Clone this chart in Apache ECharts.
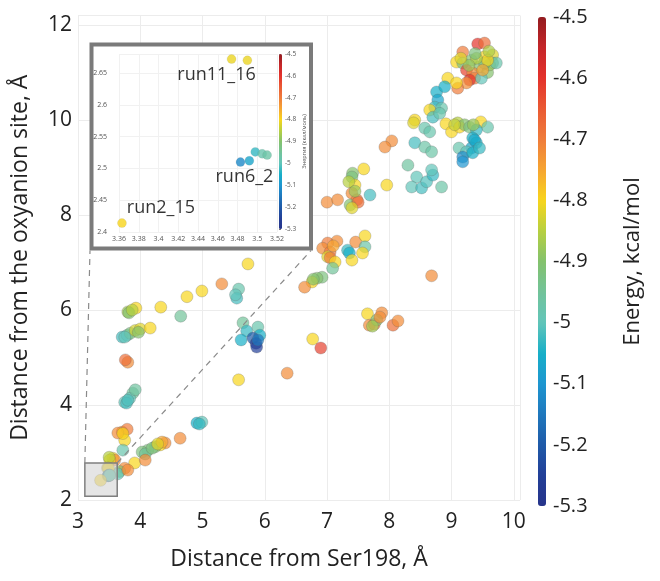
<!DOCTYPE html>
<html><head><meta charset="utf-8">
<script src="https://cdn.jsdelivr.net/npm/echarts@6/dist/echarts.min.js"></script>
<style>html,body{margin:0;padding:0;background:#fff}#c{width:660px;height:581px}</style>
</head><body><div id="c"></div>
<script>
// ---- data: [distance from Ser198, distance from oxyanion site, energy] ----
const topCluster = [[9.42,11.60,-4.60],[9.53,11.62,-4.68],[9.18,11.43,-4.70],[9.08,11.22,-4.80],[9.18,11.20,-4.92],[9.32,11.26,-4.90],[9.53,11.33,-4.80],[9.66,11.37,-4.82],[9.66,11.20,-4.92],[9.45,11.12,-4.90],[9.24,11.05,-4.62],[9.34,10.99,-4.72],[9.37,10.88,-4.70],[9.58,11.00,-4.90],[9.48,10.88,-5.00],[9.29,10.84,-4.60],[9.61,11.16,-4.88],[9.24,10.78,-4.72],[9.10,10.67,-4.70],[8.94,10.88,-4.80],[9.08,10.78,-4.80],[9.72,11.20,-4.98],[9.53,11.20,-4.92],[9.58,11.26,-4.80],[9.40,11.30,-4.85],[9.28,11.15,-4.88],[9.15,11.30,-4.82],[9.50,11.05,-4.75],[9.38,11.40,-4.92],[9.60,11.45,-4.86]];
const tealChain = [[8.76,10.59,-5.05],[8.89,10.70,-5.05],[8.78,10.42,-5.07],[8.73,10.27,-5.02],[8.84,10.25,-4.98],[8.65,10.21,-4.80],[8.70,10.06,-5.02],[8.81,10.14,-4.98]];
const midCluster = [[8.41,10.00,-4.80],[8.39,9.94,-4.82],[8.57,9.83,-4.98],[8.65,9.75,-4.98],[8.41,9.52,-5.02],[8.57,9.43,-4.97],[8.68,9.33,-4.97],[8.30,9.05,-4.96],[8.44,8.80,-5.00],[8.36,8.59,-5.00],[8.52,8.57,-5.02],[8.60,8.70,-5.01],[8.70,8.84,-5.03],[8.68,8.95,-5.00],[8.84,8.59,-4.97]];
const rightCluster = [[8.91,9.92,-4.80],[9.00,9.75,-4.80],[9.10,9.94,-4.85],[9.13,9.85,-4.80],[9.21,9.90,-4.90],[9.29,9.85,-4.92],[9.47,9.96,-4.80],[9.58,9.85,-4.98],[9.40,9.79,-5.03],[9.34,9.62,-5.05],[9.40,9.52,-5.05],[9.32,9.41,-5.07],[9.37,9.58,-5.06],[9.12,9.41,-4.98],[9.24,9.33,-5.00],[9.18,9.22,-5.12],[9.18,9.12,-5.10],[9.34,9.31,-5.05],[9.45,9.41,-5.03],[9.35,9.90,-4.88],[9.05,9.90,-4.84]];
const column74 = [[8.04,9.56,-4.72],[7.93,9.43,-4.72],[7.59,8.97,-4.80],[7.41,8.88,-4.90],[7.40,8.80,-4.92],[7.45,8.63,-4.80],[7.40,8.46,-4.72],[7.48,8.32,-4.70],[7.37,8.21,-4.90],[7.50,8.27,-4.68],[7.40,8.15,-4.82],[7.35,8.70,-4.85],[7.45,8.50,-4.88],[7.00,8.27,-4.72],[7.17,8.32,-4.72],[7.69,8.42,-5.02],[7.96,8.63,-4.80]];
const cluster72 = [[7.16,7.45,-4.72],[7.01,7.41,-4.70],[6.93,7.30,-4.72],[7.05,7.22,-4.70],[7.01,7.12,-4.82],[7.05,7.10,-4.70],[7.13,7.01,-4.80],[7.09,6.88,-4.95],[7.33,7.26,-5.03],[7.36,7.20,-5.05],[7.46,7.43,-4.72],[7.61,7.56,-4.80],[7.61,7.33,-4.97],[7.57,7.20,-4.80],[7.40,7.05,-4.80],[7.10,7.35,-4.75],[6.92,6.69,-4.92],[6.84,6.67,-4.90],[6.76,6.59,-4.80],[6.64,6.48,-4.72],[6.78,6.65,-4.90],[8.68,6.72,-4.72]];
const cluster58 = [[7.65,5.92,-4.80],[7.88,5.94,-4.72],[7.68,5.68,-4.72],[7.76,5.70,-4.70],[7.80,5.79,-4.90],[7.73,5.66,-4.87],[7.85,5.85,-4.72],[8.06,5.68,-4.68],[8.14,5.77,-4.72],[6.77,5.39,-4.80],[6.90,5.20,-4.62]];
const row6 = [[5.73,6.97,-4.80],[5.31,6.55,-4.72],[4.99,6.40,-4.80],[4.75,6.28,-4.80],[4.33,6.06,-4.80],[4.65,5.87,-4.95],[5.58,6.44,-4.98],[5.55,6.25,-5.02],[5.53,6.32,-5.00],[3.93,6.04,-4.80],[3.80,5.96,-4.87],[3.82,5.94,-4.90],[3.87,6.00,-4.85]];
const row55 = [[3.71,5.43,-5.02],[3.79,5.47,-5.00],[3.84,5.51,-4.92],[3.92,5.57,-4.83],[4.00,5.60,-4.82],[3.97,5.53,-4.90],[4.16,5.62,-4.80],[3.75,5.43,-5.00],[3.80,4.90,-4.72],[3.76,4.95,-4.68],[3.75,4.06,-5.00],[3.88,4.25,-4.95],[3.83,4.14,-5.00],[3.78,4.04,-5.02],[3.92,4.32,-4.96],[3.80,4.10,-5.01]];
const blueCluster = [[5.65,5.73,-4.95],[5.71,5.56,-5.03],[5.62,5.37,-5.05],[5.89,5.64,-4.98],[5.92,5.47,-5.05],[5.81,5.41,-5.20],[5.86,5.30,-5.25],[5.87,5.22,-5.25],[5.89,5.37,-5.15],[5.58,4.53,-4.80],[6.36,4.67,-4.72]];
const lowCluster = [[4.91,3.62,-5.05],[4.99,3.64,-5.00],[4.95,3.60,-5.03],[3.71,3.43,-4.72],[3.79,3.49,-4.70],[3.75,3.26,-4.80],[3.64,3.41,-4.72],[3.72,3.40,-4.80],[4.64,3.30,-4.72],[4.40,3.20,-4.72],[4.32,3.16,-4.80],[4.24,3.12,-4.90],[4.12,3.05,-4.92],[4.03,3.01,-4.92],[4.08,2.97,-4.95],[4.19,3.09,-4.92],[3.91,2.78,-4.80],[4.08,2.84,-4.72],[3.72,3.05,-4.98],[4.35,3.22,-4.75],[4.28,3.18,-4.82],[3.56,2.88,-4.80],[3.59,2.84,-4.72],[3.51,2.84,-4.80],[3.50,2.90,-4.85],[3.75,2.67,-4.72],[3.67,2.60,-4.90],[3.64,2.55,-5.00],[3.80,2.63,-4.72]];
// zoomed (inset) points
const insetPoints = [[3.474,2.672,-4.81],[3.490,2.670,-4.81],[3.483,2.510,-5.12],[3.492,2.512,-5.07],[3.498,2.526,-5.03],[3.505,2.523,-4.98],[3.510,2.521,-4.97],[3.363,2.414,-4.80]];
const insetNames = [{idx:0,text:'run11_16'},{idx:2,text:'run6_2'},{idx:7,text:'run2_15'}];
const labelOffsets = {0:[-15,16],2:[4,15],7:[39,-15]};
const zoomBox = {x:[3.11,3.63], y:[2.08,2.78]};
const energyRange = [-5.3,-4.5];
const colormap = ['#27348b','#223f98','#1f5aa8','#1f78bd','#1e96d0','#17afc8','#62c5b9','#72c39a','#84c26d','#b7d040','#f8d51c','#f6a532','#ef7c3b','#ea5a34','#e4322b','#c52629','#931b1f'];
const xTitle = 'Distance from Ser198, Å';
const yTitle = 'Distance from the oxyanion site, Å';
const cbTitle = 'Energy, kcal/mol';
const insetCbTitle = 'Энергия (ккал/моль)';

const mainPoints = [].concat(topCluster, tealChain, midCluster, rightCluster, column74, cluster72, cluster58, row6, row55, blueCluster, lowCluster, insetPoints);

const FONT = 'Open Sans';
const TXT = '#222';
const chart = echarts.init(document.getElementById('c'), null, {renderer:'canvas'});
const insetData = insetPoints.map((p,i)=>{
  const nm = insetNames.find(n=>n.idx===i);
  const d = {value:p};
  if (nm) d.label = {show:true, position:'inside', formatter:nm.text, offset:labelOffsets[i], fontSize:18, color:'#000', fontFamily:FONT};
  return d;
});

chart.setOption({
  animation:false,
  backgroundColor:'#fff',
  textStyle:{fontFamily:FONT},
  grid:[
    {left:78, top:15.5, width:442, height:484.5},
    {left:119, top:54, width:158, height:178},
    {left:538, top:17, width:8, height:489},
    {left:279, top:54, width:3, height:175}
  ],
  xAxis:[
    {gridIndex:0, type:'value', min:3, max:10.1, interval:1,
     axisLine:{show:false}, axisTick:{show:false},
     axisLabel:{fontSize:21, color:TXT, margin:12, showMaxLabel:false},
     splitLine:{lineStyle:{color:'#ececec'}},
     name:xTitle, nameLocation:'middle', nameGap:48, nameTextStyle:{fontSize:23, color:TXT}},
    {gridIndex:1, type:'value', min:3.36, max:3.52, interval:0.02, z:3,
     axisLine:{show:false}, axisTick:{show:false},
     axisLabel:{fontSize:7, color:'#555', margin:3},
     splitLine:{lineStyle:{color:'#f1f1f1'}}},
    {gridIndex:2, type:'value', show:false},
    {gridIndex:3, type:'value', show:false}
  ],
  yAxis:[
    {gridIndex:0, type:'value', min:2, max:12.2, interval:2,
     axisLine:{show:false}, axisTick:{show:false},
     axisLabel:{fontSize:21, color:TXT, margin:6, showMaxLabel:false},
     splitLine:{lineStyle:{color:'#ececec'}},
     name:yTitle, nameLocation:'middle', nameGap:46, nameTextStyle:{fontSize:23, color:TXT}},
    {gridIndex:1, type:'value', min:2.4, max:2.68, interval:0.05, z:3,
     axisLine:{show:false}, axisTick:{show:false},
     axisLabel:{fontSize:7, color:'#555', margin:12, showMaxLabel:false},
     splitLine:{lineStyle:{color:'#f1f1f1'}}},
    {gridIndex:2, type:'value', min:energyRange[0], max:energyRange[1], interval:0.1, position:'right',
     axisLine:{show:false}, axisTick:{show:false}, splitLine:{show:false},
     axisLabel:{fontSize:20, color:TXT, margin:7},
     name:cbTitle, nameLocation:'middle', nameGap:76, nameRotate:90, nameTextStyle:{fontSize:22, color:TXT}},
    {gridIndex:3, type:'value', min:energyRange[0], max:energyRange[1], interval:0.1, position:'right', z:3,
     axisLine:{show:false}, axisTick:{show:true, length:2, inside:false, lineStyle:{color:'#777'}}, splitLine:{show:false},
     axisLabel:{fontSize:6.5, color:'#555', margin:3},
     name:insetCbTitle, nameLocation:'middle', nameGap:19, nameRotate:90, nameTextStyle:{fontSize:5.5, color:'#555'}}
  ],
  visualMap:[
    {type:'continuous', seriesIndex:0, dimension:2, min:energyRange[0], max:energyRange[1],
     left:538, top:17, itemWidth:8, itemHeight:489, calculable:false, text:null, padding:0, hoverLink:false,
     inRange:{color:colormap}},
    {type:'continuous', seriesIndex:1, dimension:2, min:energyRange[0], max:energyRange[1],
     left:279, top:54, itemWidth:3, itemHeight:175, calculable:false, text:null, padding:0, hoverLink:false, z:4,
     inRange:{color:colormap}}
  ],
  series:[
    {type:'scatter', xAxisIndex:0, yAxisIndex:0, data:mainPoints, symbolSize:12, z:2,
     itemStyle:{opacity:0.7, borderColor:'rgba(90,90,90,0.45)', borderWidth:0.8}},
    {type:'scatter', xAxisIndex:1, yAxisIndex:1, data:insetData, symbolSize:9, z:5,
     itemStyle:{opacity:0.8, borderColor:'rgba(90,90,90,0.25)', borderWidth:0.5}}
  ]
});

const tl = chart.convertToPixel({xAxisIndex:0, yAxisIndex:0}, [zoomBox.x[0], zoomBox.y[1]]);
const br = chart.convertToPixel({xAxisIndex:0, yAxisIndex:0}, [zoomBox.x[1], zoomBox.y[0]]);
const insetRect = {x:91.5, y:44.5, w:219.5, h:204};
chart.setOption({
  graphic:[
    {type:'rect', z:1, silent:true, shape:{x:insetRect.x, y:insetRect.y, width:insetRect.w, height:insetRect.h},
     style:{fill:'#fff', stroke:'#7a7a7a', lineWidth:4}},
    {type:'rect', z:6, silent:true, shape:{x:tl[0], y:tl[1], width:br[0]-tl[0], height:br[1]-tl[1]},
     style:{fill:'rgba(212,212,212,0.6)', stroke:'#7f7f7f', lineWidth:1.5}},
    {type:'line', z:6, silent:true, shape:{x1:tl[0], y1:tl[1], x2:insetRect.x-1.5, y2:insetRect.y+insetRect.h+2},
     style:{stroke:'#8a8a8a', lineWidth:1.2, lineDash:[6,5]}},
    {type:'line', z:6, silent:true, shape:{x1:br[0], y1:tl[1], x2:insetRect.x+insetRect.w, y2:insetRect.y+insetRect.h+2},
     style:{stroke:'#8a8a8a', lineWidth:1.2, lineDash:[6,5]}}
  ]
});
</script></body></html>
